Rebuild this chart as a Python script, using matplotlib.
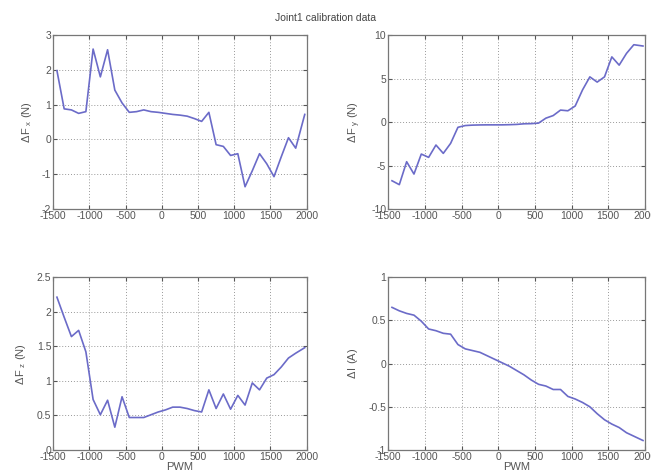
import matplotlib
matplotlib.use("Agg")
import matplotlib.pyplot as plt

pwm = [-1450, -1350, -1250, -1150, -1050, -950, -850, -750, -650, -550,
       -450, -350, -250, -150, -50, 50, 150, 250, 350, 450,
       550, 650, 750, 850, 950, 1050, 1150, 1250, 1350, 1450,
       1550, 1650, 1750, 1850, 1975]

dfx = [1.98, 0.88, 0.85, 0.75, 0.80, 2.60, 1.80, 2.58, 1.42, 1.05,
       0.78, 0.80, 0.85, 0.80, 0.78, 0.75, 0.72, 0.70, 0.67, 0.60,
       0.52, 0.78, -0.15, -0.20, -0.46, -0.41, -1.36, -0.90, -0.41, -0.70,
       -1.07, -0.50, 0.05, -0.25, 0.72]

dfy = [-6.75, -7.2, -4.56, -5.98, -3.68, -4.06, -2.64, -3.6, -2.45, -0.6,
       -0.4, -0.35, -0.33, -0.32, -0.32, -0.32, -0.30, -0.27, -0.20, -0.18,
       -0.12, 0.45, 0.75, 1.38, 1.30, 1.85, 3.7, 5.2, 4.6, 5.2,
       7.5, 6.55, 7.9, 8.9, 8.75]

dfz = [2.21, 1.92, 1.64, 1.73, 1.42, 0.73, 0.51, 0.72, 0.33, 0.77,
       0.47, 0.47, 0.47, 0.51, 0.55, 0.58, 0.62, 0.62, 0.60, 0.57,
       0.55, 0.87, 0.60, 0.81, 0.59, 0.79, 0.65, 0.97, 0.87, 1.04,
       1.09, 1.20, 1.33, 1.40, 1.48]

di = [0.65, 0.61, 0.58, 0.56, 0.49, 0.40, 0.38, 0.35, 0.34, 0.22,
      0.17, 0.15, 0.13, 0.09, 0.05, 0.01, -0.03, -0.08, -0.13, -0.19,
      -0.24, -0.26, -0.30, -0.30, -0.38, -0.41, -0.45, -0.50, -0.58, -0.65,
      -0.70, -0.74, -0.80, -0.84, -0.89]

xticks = [-1500, -1000, -500, 0, 500, 1000, 1500, 2000]
title = "Joint1 calibration data"

panels = [
    (dfx, r"$\Delta\,F_{\ x}$ (N)", (-2, 3), [-2, -1, 0, 1, 2, 3], ["-2", "-1", "0", "1", "2", "3"], False),
    (dfy, r"$\Delta\,F_{\ y}$ (N)", (-10, 10), [-10, -5, 0, 5, 10], ["-10", "-5", "0", "5", "10"], False),
    (dfz, r"$\Delta\,F_{\ z}$ (N)", (0, 2.5), [0, 0.5, 1, 1.5, 2, 2.5], ["0", "0.5", "1", "1.5", "2", "2.5"], True),
    (di, r"$\Delta\,$I (A)", (-1, 1), [-1, -0.5, 0, 0.5, 1], ["-1", "-0.5", "0", "0.5", "1"], True),
]

positions = [
    [0.0819, 0.560, 0.389, 0.366],
    [0.5965, 0.560, 0.394, 0.366],
    [0.0819, 0.0526, 0.389, 0.364],
    [0.5965, 0.0526, 0.394, 0.364],
]

plt.rcParams['font.family'] = ['Liberation Sans', 'DejaVu Sans']
plt.rcParams['mathtext.fontset'] = 'custom'
plt.rcParams['mathtext.rm'] = 'Liberation Sans'
plt.rcParams['mathtext.it'] = 'Liberation Sans'
plt.rcParams['mathtext.fallback'] = 'cm'
fig = plt.figure(figsize=(6.51, 4.75), dpi=100)
txtc = "#555555"
for (vals, ylab, ylim, yt, ytl, xl), pos in zip(panels, positions):
    ax = fig.add_axes(pos)
    ax.plot(pwm, vals, color="#6b6bc8", lw=1.2)
    ax.set_xlim(-1500, 2000)
    ax.set_ylim(*ylim)
    ax.set_xticks(xticks)
    ax.set_xticklabels([str(t) for t in xticks])
    ax.set_yticks(yt)
    ax.set_yticklabels(ytl)
    ax.grid(True, linestyle=(0, (1, 2)), color="#999999", lw=0.7)
    ax.tick_params(direction="in", length=3, labelsize=7.5, colors=txtc, pad=1.5,
                   top=True, right=True)
    for s in ax.spines.values():
        s.set_color("#777777")
        s.set_linewidth(0.9)
    ax.set_ylabel(ylab, fontsize=8, color=txtc, labelpad=6)
    if xl:
        ax.set_xlabel("PWM", fontsize=8, color=txtc, labelpad=0)

fig.text(0.5, 0.962, title, ha="center", va="center", fontsize=7.5, color="#444444")
fig.savefig("out.png", dpi=100, facecolor="white")
